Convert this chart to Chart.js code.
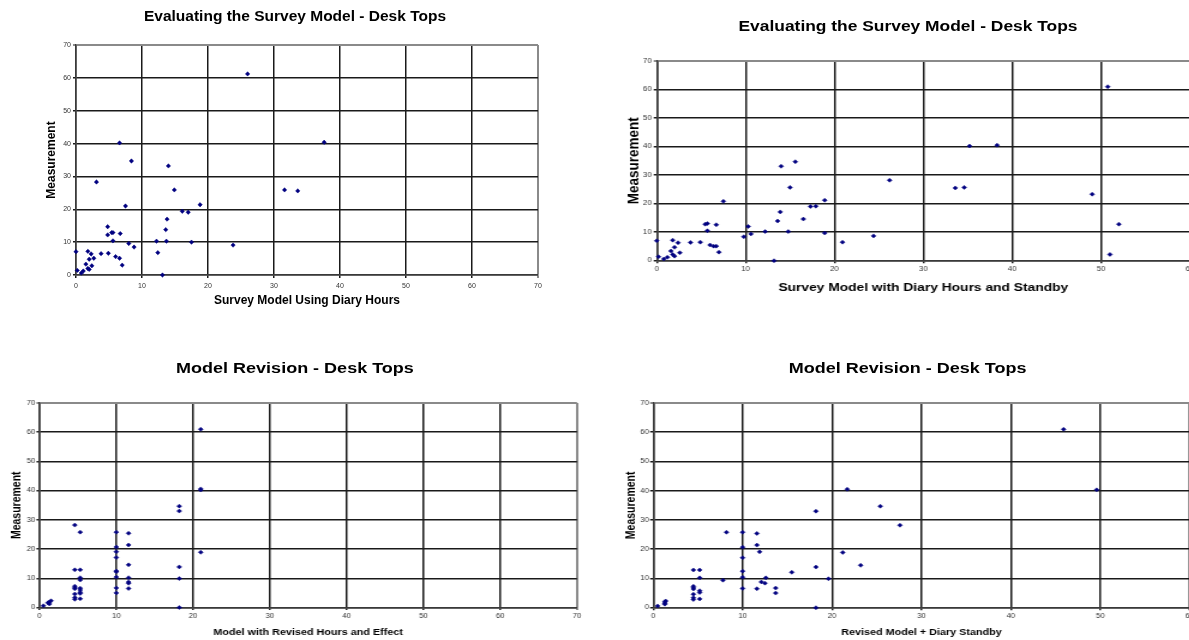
<!DOCTYPE html>
<html>
<head>
<meta charset="utf-8">
<script src="https://cdn.jsdelivr.net/npm/chart.js@4.4.1/dist/chart.umd.min.js"></script>
<style>
  html, body { margin: 0; padding: 0; background: #fff; overflow: hidden; width: 1189px; height: 640px; }
  .panel { position: absolute; transform-origin: 0 0; }
  .panel canvas { position: absolute; left: 0; top: 0; }
  .ttl { position: absolute; white-space: nowrap; font-family: 'Liberation Sans', Arial, sans-serif;
         font-weight: bold; color: #000; transform: translateX(-50%); }
</style>
</head>
<body>
<div class="panel" style="left:0;top:0;width:590px;height:320px;">
  <canvas id="c1" width="590" height="320" style="width:590px;height:320px"></canvas>
  <div class="ttl" style="left:295px;top:7px;font-size:15.5px;line-height:18.6px">Evaluating the Survey Model - Desk Tops</div>
</div>
<div class="panel" style="left:600px;top:0;width:500px;height:320px;transform:scaleX(1.2);">
  <canvas id="c2" width="500" height="320" style="width:500px;height:320px"></canvas>
  <div class="ttl" style="left:256.7px;top:18.3px;font-size:14.5px;line-height:17.4px">Evaluating the Survey Model - Desk Tops</div>
</div>
<div class="panel" style="left:0;top:330px;width:490px;height:310px;transform:scaleX(1.2);">
  <canvas id="c3" width="490" height="310" style="width:490px;height:310px"></canvas>
  <div class="ttl" style="left:245.8px;top:29.3px;font-size:15px;line-height:18px">Model Revision - Desk Tops</div>
</div>
<div class="panel" style="left:600px;top:330px;width:500px;height:310px;transform:scaleX(1.2);">
  <canvas id="c4" width="500" height="310" style="width:500px;height:310px"></canvas>
  <div class="ttl" style="left:256.3px;top:29.3px;font-size:15px;line-height:18px">Model Revision - Desk Tops</div>
</div>

<script>
// Tick values shared by the panels
const measurementTicks = [0, 10, 20, 30, 40, 50, 60, 70];
const hoursTicks70 = [0, 10, 20, 30, 40, 50, 60, 70];
const hoursTicks60 = [0, 10, 20, 30, 40, 50, 60];

// Survey model using diary hours vs. measured
const diaryHours = [26.0, 6.6, 37.6, 8.4, 14.0, 3.1, 14.9, 31.6, 33.6, 7.5, 18.8, 16.1, 17.0, 13.8, 4.8, 13.6,
  5.4, 5.6, 4.8, 6.7, 5.6, 12.2, 13.7, 17.5, 8.0, 8.8, 23.8, 0.0, 1.8, 2.3, 3.8, 4.9, 12.4, 6.0, 6.6, 2.0,
  2.7, 1.5, 2.4, 7.0, 1.8, 2.0, 0.2, 1.1, 0.8, 13.1];
const diaryMeasured = [61.2, 40.2, 40.4, 34.7, 33.2, 28.3, 25.9, 25.9, 25.6, 21.0, 21.4, 19.4, 19.1, 17.0, 14.7, 13.8,
  12.9, 12.9, 12.2, 12.6, 10.4, 10.3, 10.3, 10.0, 9.6, 8.5, 9.1, 7.1, 7.2, 6.4, 6.5, 6.6, 6.8, 5.6, 5.1, 4.8,
  5.1, 3.3, 2.8, 3.0, 2.0, 1.7, 1.4, 1.2, 0.6, 0.0];

// Survey model with diary hours and standby vs. measured
const diaryStandby = [50.75, 35.2, 38.3, 15.6, 14.0, 26.2, 15.0, 33.6, 34.6, 49.0, 7.5, 18.9, 17.3, 17.9, 13.9, 16.5,
  13.6, 5.45, 5.7, 6.7, 52.0, 10.3, 5.7, 12.2, 14.8, 10.6, 18.9, 9.8, 24.4, 0.0, 1.8, 2.4, 3.8, 4.9, 20.9, 6.0,
  6.4, 6.7, 2.0, 1.6, 2.6, 7.0, 1.8, 2.0, 0.2, 1.2, 0.8, 13.2, 51.0];
const standbyMeasured = [61.0, 40.2, 40.5, 34.7, 33.1, 28.2, 25.7, 25.5, 25.7, 23.3, 20.8, 21.2, 19.0, 19.1, 17.1, 14.6,
  13.9, 12.8, 13.0, 12.6, 12.8, 12.0, 10.5, 10.2, 10.2, 9.4, 9.7, 8.4, 8.7, 7.0, 7.2, 6.3, 6.4, 6.5, 6.5, 5.5,
  5.1, 5.1, 4.7, 3.4, 2.8, 3.0, 2.2, 1.6, 1.4, 1.2, 0.6, 0.0, 2.2];

// Model with revised hours and effect vs. measured
const revisedHours = [21.0, 21.0, 21.0, 18.2, 18.2, 4.6, 5.3, 10.0, 11.6, 11.6, 10.0, 10.0, 21.0, 10.0, 11.6, 18.2,
  4.6, 5.3, 10.0, 10.0, 10.0, 11.6, 5.3, 5.3, 18.2, 11.6, 11.6, 4.6, 4.6, 4.6, 5.3, 5.3, 10.0, 11.6, 4.6, 5.3,
  5.3, 10.0, 4.6, 4.6, 5.3, 18.2, 1.1, 1.3, 1.5, 1.3, 0.5];
const revisedMeasured = [61.0, 40.6, 40.2, 34.7, 33.0, 28.2, 25.8, 25.8, 25.4, 21.4, 20.7, 19.1, 18.9, 17.1, 14.6, 13.9,
  12.9, 12.9, 12.5, 12.2, 10.4, 10.2, 10.2, 9.4, 9.9, 8.7, 8.3, 7.3, 6.8, 6.4, 6.6, 6.0, 6.7, 6.5, 4.6, 5.2,
  4.8, 5.0, 3.4, 2.8, 3.0, 0.0, 1.6, 1.2, 2.3, 1.9, 0.6];

// Revised model plus diary standby vs. measured
const revisedStandby = [45.9, 49.6, 21.7, 25.4, 18.2, 27.6, 8.2, 10.0, 11.6, 11.6, 10.0, 11.9, 21.2, 10.0, 23.2, 18.2,
  4.5, 5.2, 10.0, 15.5, 10.0, 5.2, 12.6, 7.8, 19.6, 12.1, 12.5, 4.5, 4.5, 4.5, 5.2, 5.2, 10.0, 11.6, 13.7, 13.7,
  4.5, 5.2, 4.5, 4.5, 18.2, 1.3, 1.3, 1.3, 1.4, 0.5];
const revisedStandbyMeasured = [61.0, 40.3, 40.5, 34.7, 33.0, 28.2, 25.8, 25.8, 25.4, 21.4, 20.7, 19.1, 18.9, 17.1, 14.5, 13.9,
  12.9, 12.9, 12.5, 12.1, 10.4, 10.2, 10.2, 9.4, 9.9, 8.8, 8.4, 7.3, 6.8, 6.4, 5.8, 5.2, 6.6, 6.5, 6.7, 5.0,
  4.6, 3.0, 3.4, 2.8, 0.0, 2.0, 1.5, 1.2, 2.3, 0.6];

const FONT = "'Liberation Sans', Arial, sans-serif";

function scatterPanel(id, xs, ys, xTicks, cfg) {
  const points = xs.map((x, i) => ({ x: x, y: ys[i] }));
  const xMax = xTicks[xTicks.length - 1];
  const yMax = measurementTicks[measurementTicks.length - 1];
  // the outermost grid line is the grey plot-area frame, the rest are dark
  const gridColor = max => c => (c.tick && c.tick.value === max) ? '#8a8a8a' : '#1a1a1a';
  const gridWidth = max => c => (c.tick && c.tick.value === max) ? 2 : 1.5;
  return new Chart(document.getElementById(id), {
    type: 'scatter',
    data: {
      datasets: [{
        data: points,
        pointStyle: 'rectRot',
        pointRadius: cfg.radius,
        pointBackgroundColor: '#000080',
        pointBorderColor: '#000080',
        pointBorderWidth: 0.5,
        clip: false
      }]
    },
    options: {
      responsive: false,
      animation: false,
      devicePixelRatio: 1,
      events: [],
      layout: { padding: { left: 0, top: cfg.padTop, right: cfg.padRight, bottom: 0 } },
      plugins: { legend: { display: false }, tooltip: { enabled: false }, title: { display: false } },
      scales: {
        x: {
          type: 'linear', min: 0, max: xMax,
          afterBuildTicks: s => { s.ticks = xTicks.map(v => ({ value: v })); },
          afterFit: s => { s.height = cfg.xAxisH; },
          grid: {
            color: gridColor(xMax), lineWidth: gridWidth(xMax),
            tickLength: cfg.tickLen, drawTicks: true
          },
          border: { display: true, color: '#3a3a3a', width: 1.5 },
          ticks: {
            autoSkip: false, maxRotation: 0, padding: cfg.xTickPad, color: '#333',
            font: { family: FONT, size: cfg.tickSize }
          },
          title: {
            display: true, text: cfg.xTitle, color: '#000',
            font: { family: FONT, size: cfg.xTitleSize, weight: 'bold' },
            padding: { top: 0, bottom: cfg.xTitlePad }
          }
        },
        y: {
          type: 'linear', min: 0, max: yMax,
          afterBuildTicks: s => { s.ticks = measurementTicks.map(v => ({ value: v })); },
          afterFit: s => { s.width = cfg.yAxisW; },
          grid: {
            color: gridColor(yMax), lineWidth: gridWidth(yMax),
            tickLength: cfg.tickLen, drawTicks: true
          },
          border: { display: true, color: '#3a3a3a', width: 1.5 },
          ticks: {
            autoSkip: false, padding: cfg.yTickPad, color: '#333',
            font: { family: FONT, size: cfg.tickSize }
          },
          title: {
            display: true, text: 'Measurement', color: '#000',
            font: { family: FONT, size: cfg.yTitleSize, weight: 'bold' },
            padding: { top: cfg.yTitlePad, bottom: 0 }
          }
        }
      }
    }
  });
}

scatterPanel('c1', diaryHours, diaryMeasured, hoursTicks70, {
  radius: 2.2, padTop: 45, padRight: 52, xAxisH: 45, yAxisW: 76,
  tickLen: 3, xTickPad: 3.5, yTickPad: 2, tickSize: 7,
  xTitle: 'Survey Model Using Diary Hours', xTitleSize: 12, xTitlePad: 11.9,
  yTitleSize: 12, yTitlePad: 44.8
});

scatterPanel('c2', diaryStandby, standbyMeasured, hoursTicks60, {
  radius: 2, padTop: 61, padRight: 8.4, xAxisH: 59.3, yAxisW: 47.25,
  tickLen: 2.5, xTickPad: 2.5, yTickPad: 1.7, tickSize: 6.5,
  xTitle: 'Survey Model with Diary Hours and Standby', xTitleSize: 11.5, xTitlePad: 25.2,
  yTitleSize: 13.5, yTitlePad: 20.2
});

scatterPanel('c3', revisedHours, revisedMeasured, hoursTicks70, {
  radius: 2, padTop: 73, padRight: 9.2, xAxisH: 32.5, yAxisW: 32.9,
  tickLen: 2.5, xTickPad: 2.5, yTickPad: 1, tickSize: 6.5,
  xTitle: 'Model with Revised Hours and Effect', xTitleSize: 9, xTitlePad: 2.4,
  yTitleSize: 10.5, yTitlePad: 7.9
});

scatterPanel('c4', revisedStandby, revisedStandbyMeasured, hoursTicks60, {
  radius: 2, padTop: 73, padRight: 8.6, xAxisH: 32.3, yAxisW: 44.3,
  tickLen: 2.5, xTickPad: 2.5, yTickPad: 1, tickSize: 6.5,
  xTitle: 'Revised Model + Diary Standby', xTitleSize: 9, xTitlePad: 2.4,
  yTitleSize: 10.5, yTitlePad: 19.5
});
</script>
</body>
</html>
